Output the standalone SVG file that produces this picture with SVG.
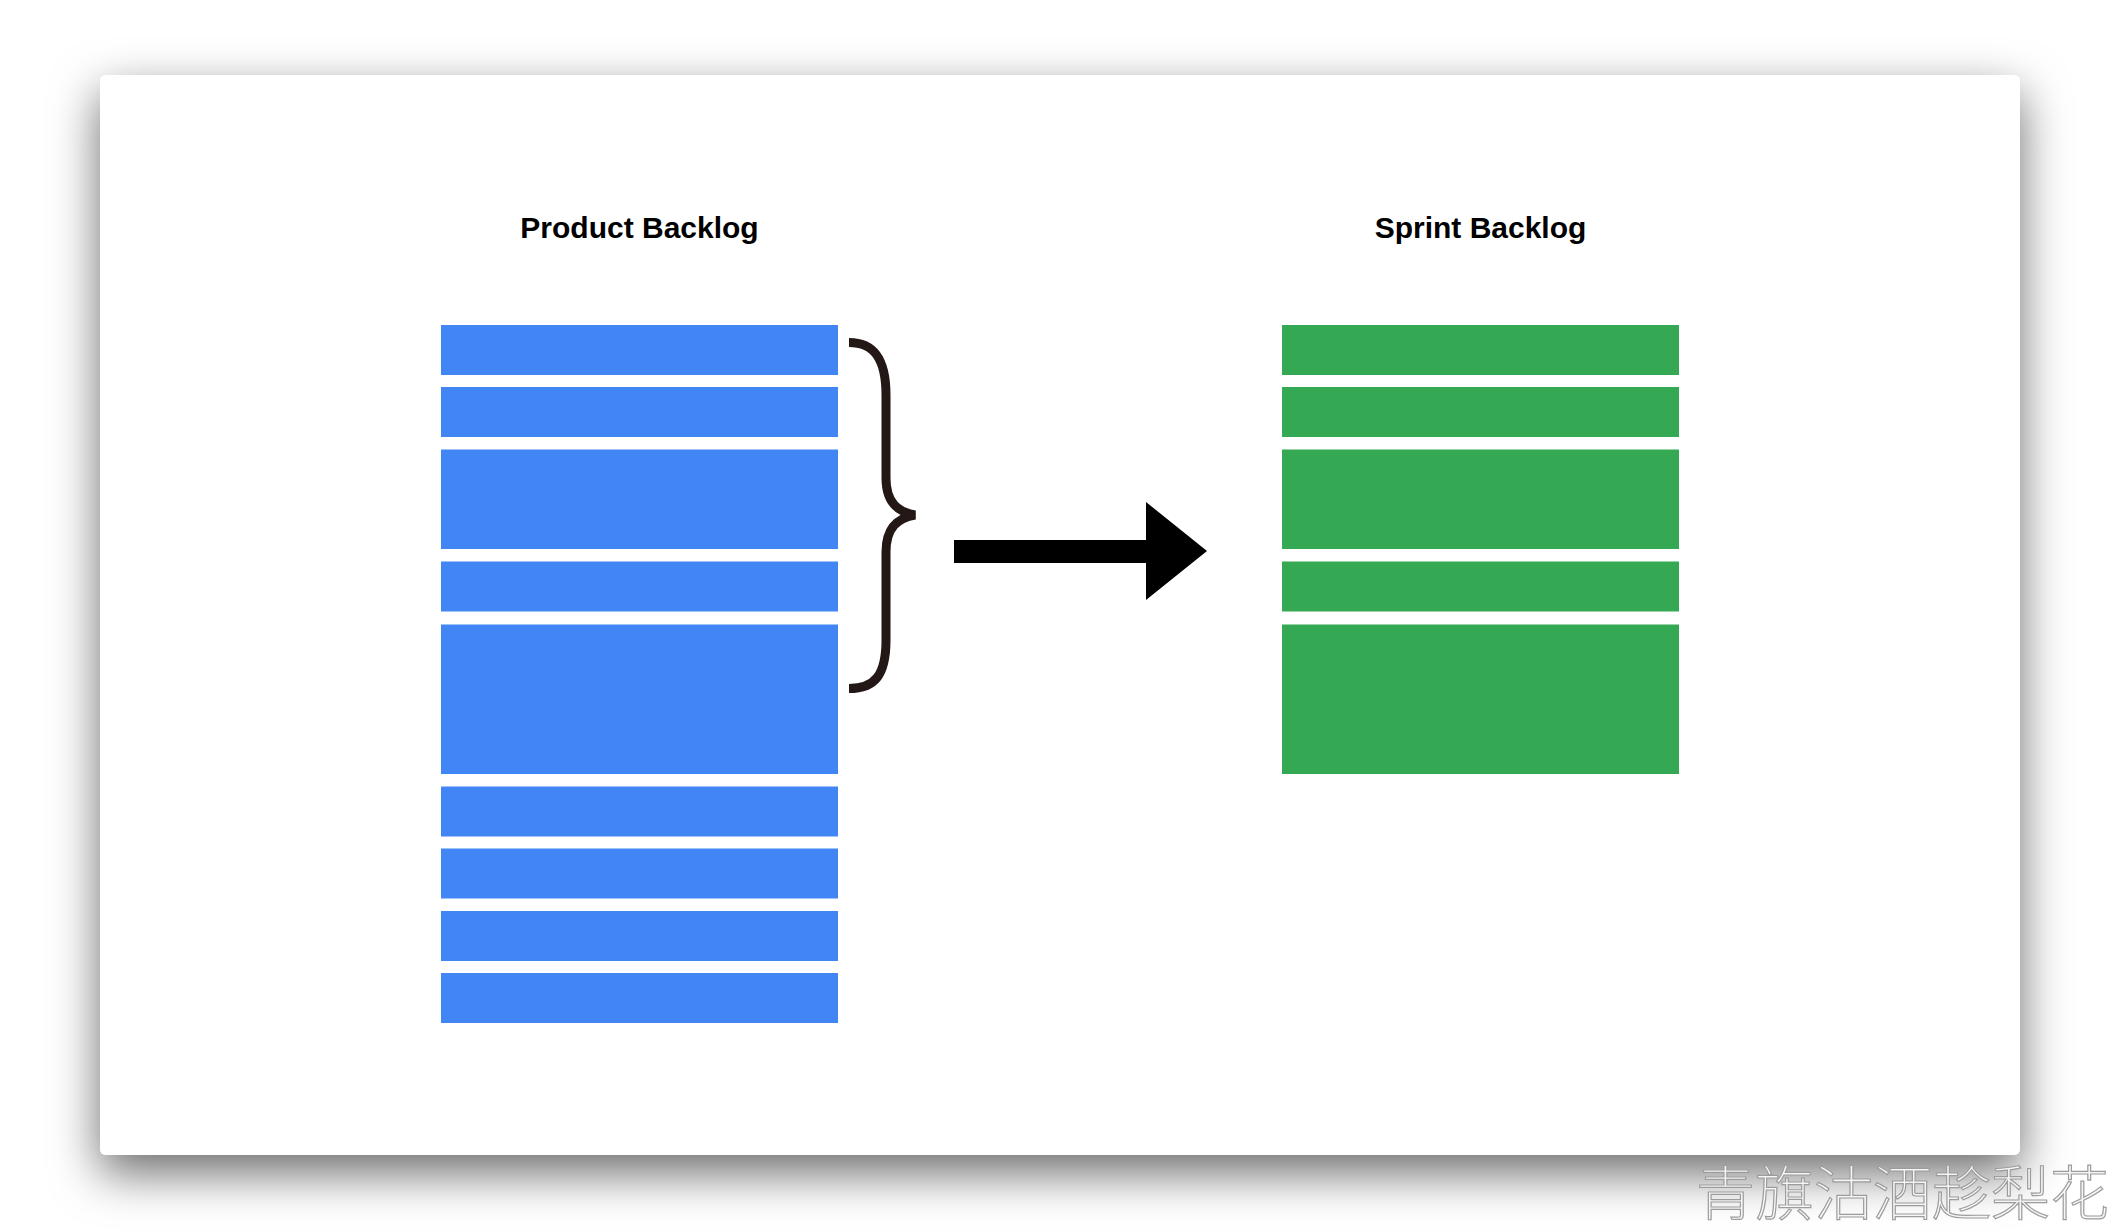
<svg xmlns="http://www.w3.org/2000/svg" width="2120" height="1230" viewBox="0 0 2120 1230">
  <defs>
    <filter id="cardShadow" x="-10%" y="-15%" width="120%" height="135%">
      <feDropShadow dx="0" dy="18" stdDeviation="24" flood-color="#000" flood-opacity="0.58"/>
    </filter>
  </defs>
  <style>
    .title { font-family: "Liberation Sans", Arial, sans-serif; font-weight: bold; font-size: 30px; fill: #000; text-anchor: middle; }
    .pb { fill: #4285f4; }
    .sb { fill: #34a853; }
    .brace { fill: none; stroke: #231815; stroke-width: 9; stroke-linejoin: miter; stroke-miterlimit: 2; }
    .arrow { fill: #000; }
    .wm { font-family: "Noto Sans CJK SC", "Noto Sans CJK TC", sans-serif; font-size: 59px; font-weight: 300; fill: #f6f6f6; stroke: #9c9c9c; stroke-width: 1.2; }
  </style>
  <rect width="2120" height="1230" fill="#ffffff"/>
  <rect id="card" x="100" y="75" width="1920" height="1080" rx="6" fill="#ffffff" filter="url(#cardShadow)"/>

  <g id="product-backlog">
    <text class="title" x="639.5" y="238">Product Backlog</text>
    <rect class="pb" x="441" y="325" width="397" height="50"/>
    <rect class="pb" x="441" y="387" width="397" height="50"/>
    <rect class="pb" x="441" y="449.5" width="397" height="99.5"/>
    <rect class="pb" x="441" y="561.5" width="397" height="50"/>
    <rect class="pb" x="441" y="624.5" width="397" height="149.5"/>
    <rect class="pb" x="441" y="786.5" width="397" height="50"/>
    <rect class="pb" x="441" y="848.5" width="397" height="50"/>
    <rect class="pb" x="441" y="911" width="397" height="50"/>
    <rect class="pb" x="441" y="973" width="397" height="50"/>
  </g>

  <g id="brace">
    <path class="brace" d="M849,342.5 C875,342.5 886,360 886,395 L886,478 C886,503 898,512 915,515 C898,518 886,527 886,552 L886,640 C886,675 875,688.5 849,688.5"/>
  </g>

  <g id="sprint-backlog">
    <text class="title" x="1480.5" y="238">Sprint Backlog</text>
    <rect class="sb" x="1282" y="325" width="397" height="50"/>
    <rect class="sb" x="1282" y="387" width="397" height="50"/>
    <rect class="sb" x="1282" y="449.5" width="397" height="99.5"/>
    <rect class="sb" x="1282" y="561.5" width="397" height="50"/>
    <rect class="sb" x="1282" y="624.5" width="397" height="149.5"/>
  </g>

  <g id="connectors">
    <polygon class="arrow" points="954,540 1146,540 1146,502 1207,551 1146,600 1146,563 954,563"/>
  </g>

  <text class="wm" x="1696" y="1215">青旗沽酒趁梨花</text>
</svg>
